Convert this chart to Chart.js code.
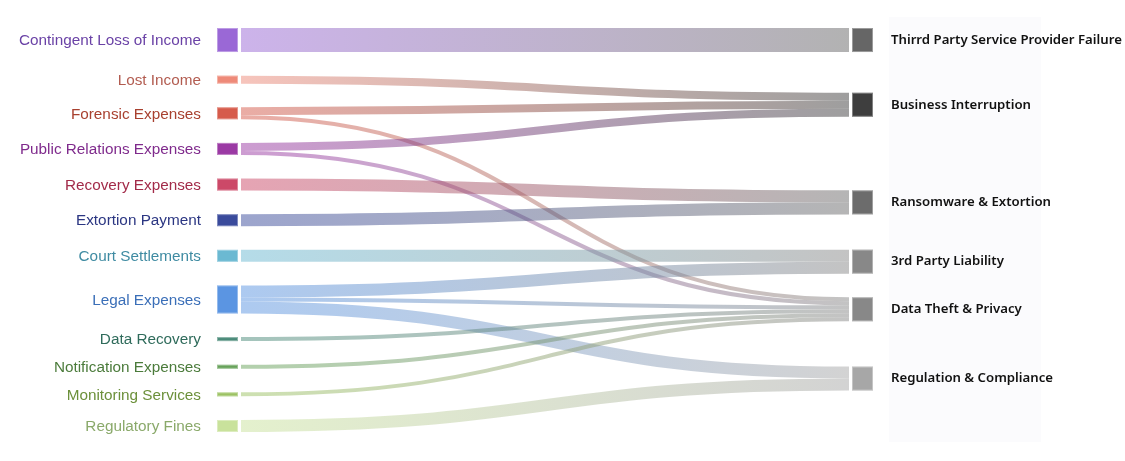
<!DOCTYPE html>
<html>
<head>
<meta charset="utf-8">
<script src="https://cdn.jsdelivr.net/npm/chart.js@4.4.1/dist/chart.umd.min.js"></script>
<style>
  html, body { margin: 0; padding: 0; background: #ffffff; }
  canvas { display: block; }
</style>
</head>
<body>
<canvas id="sankeyChart" width="1125" height="461"></canvas>
<script>
const sources = [
  "Contingent Loss of Income",
  "Lost Income",
  "Forensic Expenses",
  "Public Relations Expenses",
  "Recovery Expenses",
  "Extortion Payment",
  "Court Settlements",
  "Legal Expenses",
  "Data Recovery",
  "Notification Expenses",
  "Monitoring Services",
  "Regulatory Fines",
];

const targets = [
  "Thirrd Party Service Provider Failure",
  "Business Interruption",
  "Ransomware & Extortion",
  "3rd Party Liability",
  "Data Theft & Privacy",
  "Regulation & Compliance",
];

// flows: index into sources -> index into targets
const flowFrom = [0, 1, 2, 2, 3, 3, 4, 5, 6, 7, 7, 7, 8, 9, 10, 11];
const flowTo = [0, 1, 1, 4, 1, 4, 2, 2, 3, 3, 4, 5, 4, 4, 4, 5];
const flowValue = [24, 8, 8, 4, 8, 4, 12, 12, 12, 12, 4, 12, 4, 4, 4, 12];

const sourceColors = [
  "#9a68d6", "#ee8a79", "#d65b4b", "#9b3aa4", "#cc4968", "#3a4b9c",
  "#6bb9d2", "#5b95e2", "#4a8a79", "#67a25a", "#9cc263", "#c9e29c",
];
const sourceLabelColors = [
  "#6a42a6", "#b25c50", "#a8402f", "#7f2a8c", "#a22b49", "#2b3682",
  "#3f8ba2", "#3b6fb8", "#2f6b5b", "#4b7b3b", "#6c903b", "#8aa96a",
];
const targetColors = ["#666666", "#3e3e3e", "#6c6c6c", "#888888", "#888888", "#a7a7a7"];

const NODE_WIDTH = 21;
const LINK_GAP = 3;
const NODE_PADDING = 23.6;
const ITERATIONS = 6;

function sumBy(list, fn) {
  return list.reduce((s, d) => s + fn(d), 0);
}

function buildSankey() {
  const nodes = [];
  sources.forEach((name, i) => {
    nodes.push({ name, layer: 0, color: sourceColors[i], labelColor: sourceLabelColors[i], sourceLinks: [], targetLinks: [] });
  });
  targets.forEach((name, i) => {
    nodes.push({ name, layer: 1, color: targetColors[i], labelColor: "#111111", sourceLinks: [], targetLinks: [] });
  });

  const links = flowValue.map((value, i) => ({
    index: i,
    source: nodes[flowFrom[i]],
    target: nodes[sources.length + flowTo[i]],
    value: value,
  }));
  links.forEach((link) => {
    link.source.sourceLinks.push(link);
    link.target.targetLinks.push(link);
  });
  nodes.forEach((node) => {
    node.value = Math.max(sumBy(node.sourceLinks, (l) => l.value), sumBy(node.targetLinks, (l) => l.value));
  });

  const columns = [nodes.filter((n) => n.layer === 0), nodes.filter((n) => n.layer === 1)];
  const y0 = 0;
  const y1 = sumBy(columns[0], (n) => n.value) + (columns[0].length - 1) * NODE_PADDING;
  const py = NODE_PADDING;

  const byBreadth = (a, b) => a.y0 - b.y0;
  const bySource = (a, b) => byBreadth(a.source, b.source) || a.index - b.index;
  const byTarget = (a, b) => byBreadth(a.target, b.target) || a.index - b.index;

  function reorderNodeLinks(node) {
    node.targetLinks.forEach((l) => l.source.sourceLinks.sort(byTarget));
    node.sourceLinks.forEach((l) => l.target.targetLinks.sort(bySource));
  }

  // where the target's top would sit for this link to run flat
  function targetTop(source, target) {
    let y = source.y0 - ((source.sourceLinks.length - 1) * py) / 2;
    for (const link of source.sourceLinks) {
      if (link.target === target) break;
      y += link.width + py;
    }
    for (const link of target.targetLinks) {
      if (link.source === source) break;
      y -= link.width;
    }
    return y;
  }

  function collideDown(list, y, i, alpha) {
    for (; i < list.length; ++i) {
      const node = list[i];
      const dy = (y - node.y0) * alpha;
      if (dy > 1e-6) { node.y0 += dy; node.y1 += dy; }
      y = node.y1 + py;
    }
  }

  function collideUp(list, y, i, alpha) {
    for (; i >= 0; --i) {
      const node = list[i];
      const dy = (node.y1 - y) * alpha;
      if (dy > 1e-6) { node.y0 -= dy; node.y1 -= dy; }
      y = node.y0 - py;
    }
  }

  function resolveCollisions(list, alpha) {
    const i = list.length >> 1;
    const subject = list[i];
    collideUp(list, subject.y0 - py, i - 1, alpha);
    collideDown(list, subject.y1 + py, i + 1, alpha);
    collideUp(list, y1, list.length - 1, alpha);
    collideDown(list, y0, 0, alpha);
  }

  // starting positions, stacked in input order
  const ky = Math.min(...columns.map((c) => (y1 - y0 - (c.length - 1) * py) / sumBy(c, (n) => n.value)));
  columns.forEach((column) => {
    let y = y0;
    column.forEach((node) => {
      node.y0 = y;
      node.y1 = y + node.value * ky;
      y = node.y1 + py;
      node.sourceLinks.forEach((l) => (l.width = l.value * ky));
    });
    const spare = (y1 - y + py) / (column.length + 1);
    column.forEach((node, i) => {
      node.y0 += spare * (i + 1);
      node.y1 += spare * (i + 1);
    });
  });
  nodes.forEach((node) => {
    node.sourceLinks.sort(byTarget);
    node.targetLinks.sort(bySource);
  });

  // left column fills the full height, so only the right column relaxes
  for (let it = 0; it < ITERATIONS; it++) {
    const alpha = Math.pow(0.99, it);
    const beta = Math.max(1 - alpha, (it + 1) / ITERATIONS);
    columns[1].forEach((target) => {
      let y = 0;
      let w = 0;
      target.targetLinks.forEach((l) => {
        y += targetTop(l.source, target) * l.value;
        w += l.value;
      });
      if (!(w > 0)) return;
      const dy = (y / w - target.y0) * alpha;
      target.y0 += dy;
      target.y1 += dy;
      reorderNodeLinks(target);
    });
    resolveCollisions(columns[1], beta);
  }

  nodes.forEach((node) => {
    let a = node.y0;
    let b = node.y0;
    node.sourceLinks.forEach((l) => { l.y0 = a + l.width / 2; a += l.width; });
    node.targetLinks.forEach((l) => { l.y1 = b + l.width / 2; b += l.width; });
  });

  return { nodes, links, extent: y1 };
}

const sankey = buildSankey();

function withAlpha(hex, a) {
  const n = parseInt(hex.slice(1), 16);
  return `rgba(${(n >> 16) & 255}, ${(n >> 8) & 255}, ${n & 255}, ${a})`;
}

const sankeyPlugin = {
  id: "sankeyPlugin",
  beforeDatasetsDraw(chart) {
    const ctx = chart.ctx;
    const xScale = chart.scales.x;
    const yScale = chart.scales.y;
    const leftX = xScale.getPixelForValue(0);
    const rightX = xScale.getPixelForValue(1);

    // faint panel behind the category names
    ctx.save();
    ctx.fillStyle = "#fbfbfd";
    ctx.fillRect(rightX + 16, yScale.getPixelForValue(0) - 11, 152, yScale.getPixelForValue(sankey.extent) - yScale.getPixelForValue(0) + 21);
    ctx.restore();

    // links
    sankey.links.forEach((link) => {
      const x0 = leftX + NODE_WIDTH + LINK_GAP;
      const x1 = rightX - NODE_WIDTH - LINK_GAP;
      const ya = yScale.getPixelForValue(link.y0);
      const yb = yScale.getPixelForValue(link.y1);
      const widthPx = Math.abs(yScale.getPixelForValue(link.width) - yScale.getPixelForValue(0));
      const xm = (x0 + x1) / 2;
      const grad = ctx.createLinearGradient(x0, 0, x1, 0);
      grad.addColorStop(0, withAlpha(link.source.color, 0.5));
      grad.addColorStop(1, withAlpha(link.target.color, 0.5));
      ctx.save();
      ctx.beginPath();
      ctx.moveTo(x0, ya);
      ctx.bezierCurveTo(xm, ya, xm, yb, x1, yb);
      ctx.strokeStyle = grad;
      ctx.lineWidth = widthPx;
      ctx.lineCap = "butt";
      ctx.stroke();
      ctx.restore();
    });

    // nodes and labels
    sankey.nodes.forEach((node) => {
      const top = yScale.getPixelForValue(node.y0);
      const bottom = yScale.getPixelForValue(node.y1);
      const x = node.layer === 0 ? leftX : rightX - NODE_WIDTH;
      ctx.save();
      ctx.fillStyle = node.color;
      ctx.fillRect(x, top, NODE_WIDTH, bottom - top);
      ctx.strokeStyle = "rgba(255, 255, 255, 0.35)";
      ctx.lineWidth = 1;
      ctx.strokeRect(x + 0.5, top + 0.5, NODE_WIDTH - 1, bottom - top - 1);

      const cy = (top + bottom) / 2;
      ctx.textBaseline = "middle";
      ctx.fillStyle = node.labelColor;
      if (node.layer === 0) {
        ctx.font = "15.3px 'Liberation Sans', Arial, sans-serif";
        ctx.textAlign = "right";
        ctx.fillText(node.name, leftX - 16, cy + 1);
      } else {
        ctx.font = "600 13.2px 'Noto Sans', 'Open Sans', sans-serif";
        ctx.textAlign = "left";
        ctx.fillText(node.name, rightX + 18, cy);
      }
      ctx.restore();
    });
  },
};

new Chart(document.getElementById("sankeyChart"), {
  type: "scatter",
  data: {
    datasets: [{ data: [] }],
  },
  options: {
    responsive: false,
    animation: false,
    layout: {
      padding: { left: 217, right: 252, top: 28, bottom: 29 },
    },
    scales: {
      x: { type: "linear", min: 0, max: 1, display: false },
      y: { type: "linear", min: 0, max: sankey.extent, reverse: true, display: false },
    },
    plugins: {
      legend: { display: false },
      tooltip: { enabled: false },
    },
  },
  plugins: [sankeyPlugin],
});
</script>
</body>
</html>
